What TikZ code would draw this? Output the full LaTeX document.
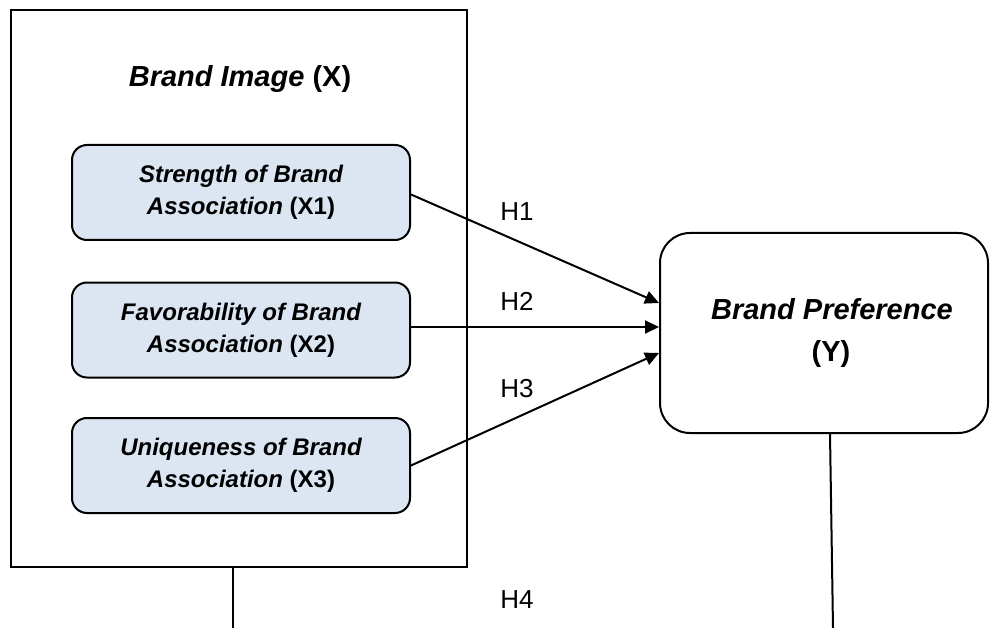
\documentclass[tikz,border=0pt]{standalone}
\usepackage{fontspec}
\setmainfont{Liberation Sans}
\usetikzlibrary{arrows.meta}
\definecolor{boxfill}{HTML}{DCE6F2}
\tikzset{
  outerbox/.style={draw=black, line width=2.5pt, minimum width=456pt, minimum height=557pt, inner sep=0pt},
  dimbox/.style={draw=black, fill=boxfill, line width=2pt, rounded corners=15pt, minimum width=338pt, minimum height=95pt, align=center, inner sep=0pt, font=\fontsize{24}{32}\selectfont\bfseries},
  ybox/.style={draw=black, line width=2pt, rounded corners=30pt, minimum width=328pt, minimum height=200pt, align=center, inner sep=0pt, font=\fontsize{29}{42}\selectfont\bfseries},
  titletext/.style={font=\fontsize{29}{34}\selectfont\bfseries, inner sep=0pt},
  hlabel/.style={font=\fontsize{26}{30}\selectfont, inner sep=0pt},
  conn/.style={draw=black, line width=2pt},
  arr/.style={conn, -{Triangle[length=14pt,width=13pt]}}
}
\begin{document}
\begin{tikzpicture}[x=1pt,y=-1pt]
\useasboundingbox (0,0) rectangle (990,628);
\node[outerbox] (X) at (239,288.5) {};
\node[titletext] (title) at (240,79) {\itshape Brand Image \upshape(X)};
\node[dimbox] (b1) at (241,192.5) {\itshape Strength of Brand\\\itshape Association \upshape(X1)};
\node[dimbox] (b2) at (241,330) {\itshape Favorability of Brand\\\itshape Association \upshape(X2)};
\node[dimbox] (b3) at (241,465.5) {\itshape Uniqueness of Brand\\\itshape Association \upshape(X3)};
\node[ybox] (Y) at (824,333) {\hspace*{16pt}\itshape Brand Preference\\\hspace*{14pt}\upshape(Y)};
\draw[arr] ([yshift=-2pt]b1.east) -- ([yshift=30pt]Y.west);
\draw[arr] ([yshift=3pt]b2.east) -- ([yshift=6pt]Y.west);
\draw[arr] (b3.east) -- ([yshift=-20pt]Y.west);
\node[hlabel] (h1) at (517,212) {H1};
\node[hlabel] (h2) at (517,301) {H2};
\node[hlabel] (h3) at (517,389) {H3};
\node[hlabel] (h4) at (517,600) {H4};
\coordinate (xend) at (233,628);
\coordinate (yend) at (833,628);
\draw[conn] ([xshift=-6pt]X.south) -- (xend);
\draw[conn] ([xshift=6pt]Y.south) -- (yend);
\end{tikzpicture}
\end{document}
